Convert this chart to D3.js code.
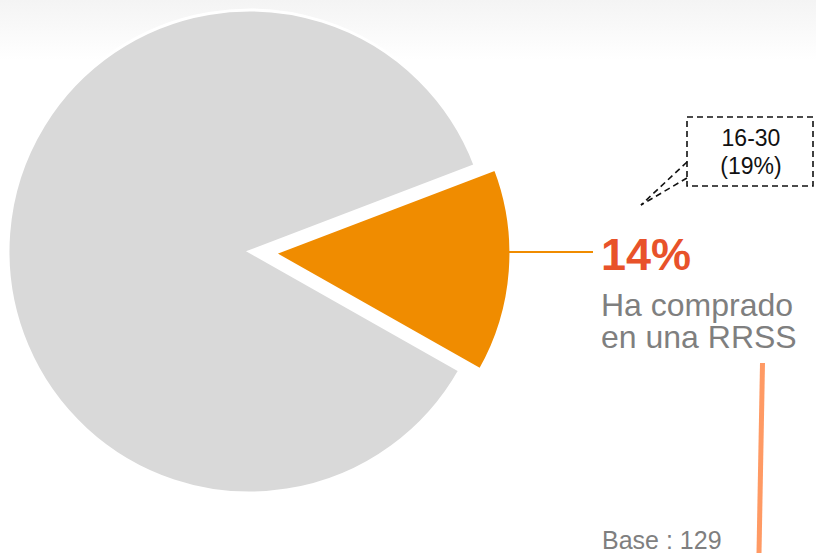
<!DOCTYPE html>
<html>
<head>
<meta charset="utf-8">
<script src="https://cdn.jsdelivr.net/npm/d3@7"></script>
<style>
  body { margin: 0; background: #fff; }
  svg { display: block; font-family: "Liberation Sans", Arial, sans-serif; }
</style>
</head>
<body>
<div id="chart"></div>
<script>
// data
var categories = ["Ha comprado en una RRSS", "No ha comprado"];
var values = [14, 86];
var colors = ["#F08C00", "#D9D9D9"];
var mainLabel = ["Ha comprado", "en una RRSS"];
var calloutLines = ["16-30", "(19%)"];
var baseText = "Base : 129";

var width = 816, height = 553;

var svg = d3.select("#chart")
  .append("svg")
  .attr("width", width)
  .attr("height", height);

// soft grey band at the top
var grad = svg.append("defs").append("linearGradient")
  .attr("id", "topfade")
  .attr("x1", 0).attr("y1", 0).attr("x2", 0).attr("y2", 1);
grad.append("stop").attr("offset", "0%").attr("stop-color", "#f4f4f4");
grad.append("stop").attr("offset", "100%").attr("stop-color", "#ffffff");
svg.append("rect")
  .attr("x", 0).attr("y", 0)
  .attr("width", width).attr("height", 60)
  .attr("fill", "url(#topfade)");

/****** PIE ******/
var cx = 249.5, cy = 251.5, radius = 241.5;
var startDeg = 69.1;

var pie = d3.pie()
  .sort(null)
  .value(function(d) { return d; })
  .startAngle(startDeg * Math.PI / 180)
  .endAngle(startDeg * Math.PI / 180 + 2 * Math.PI);

var arcs = pie(values);

var arcBig = d3.arc().innerRadius(0).outerRadius(radius);
var arcSmall = d3.arc().innerRadius(0).outerRadius(236.5);
var explode = 25;

var g = svg.append("g")
  .attr("transform", "translate(" + cx + "," + cy + ")");

g.selectAll("path")
  .data(arcs)
  .enter()
  .append("path")
    .attr("d", function(d, i) { return i == 0 ? arcSmall(d) : arcBig(d); })
    .attr("transform", function(d, i) {
      if (i != 0) return null;
      var mid = (d.startAngle + d.endAngle) / 2;
      return "translate(" + (Math.sin(mid) * explode) + "," + (-Math.cos(mid) * explode) + ")";
    })
    .attr("fill", function(d, i) { return colors[i]; })
    .attr("stroke", "#fff")
    .attr("stroke-width", 3)
    .attr("stroke-linejoin", "miter");

// leader from the orange slice to the label
var slice = arcs[0];
var midA = (slice.startAngle + slice.endAngle) / 2;
var ox = cx + Math.sin(midA) * explode, oy = cy - Math.cos(midA) * explode;
svg.append("line")
  .attr("x1", ox + 234).attr("y1", 252)
  .attr("x2", 593).attr("y2", 252)
  .attr("stroke", "#F08C00")
  .attr("stroke-width", 2);

/****** LABELS ******/
svg.append("text")
  .attr("x", 601)
  .attr("y", 270)
  .style("font-size", "45px")
  .style("font-weight", "bold")
  .style("fill", "#E8522A")
  .text(values[0] + "%");

svg.append("g").selectAll("text")
  .data(mainLabel)
  .enter()
  .append("text")
    .attr("x", 601)
    .attr("y", function(d, i) { return 316 + i * 32; })
    .style("font-size", "32px")
    .style("fill", "#7F7F7F")
    .text(function(d) { return d; });

svg.append("text")
  .attr("x", 602)
  .attr("y", 549)
  .style("font-size", "25px")
  .style("fill", "#7F7F7F")
  .text(baseText);

// salmon vertical bar
svg.append("line")
  .attr("x1", 762.5).attr("y1", 363)
  .attr("x2", 759).attr("y2", 553)
  .attr("stroke", "#FF9A64")
  .attr("stroke-width", 5);

/****** DASHED CALLOUT ******/
var callout = svg.append("g")
  .attr("fill", "none")
  .attr("stroke", "#111")
  .attr("stroke-width", 1.6)
  .attr("stroke-dasharray", "6,4");

callout.append("rect")
  .attr("x", 687).attr("y", 117)
  .attr("width", 126).attr("height", 69);

callout.append("line")
  .attr("x1", 687).attr("y1", 162)
  .attr("x2", 641).attr("y2", 205);
callout.append("line")
  .attr("x1", 687).attr("y1", 178)
  .attr("x2", 641).attr("y2", 205);

svg.append("g").selectAll("text")
  .data(calloutLines)
  .enter()
  .append("text")
    .attr("x", 751)
    .attr("y", function(d, i) { return 146 + i * 28; })
    .attr("text-anchor", "middle")
    .style("font-size", "23px")
    .style("fill", "#111")
    .text(function(d) { return d; });
</script>
</body>
</html>
